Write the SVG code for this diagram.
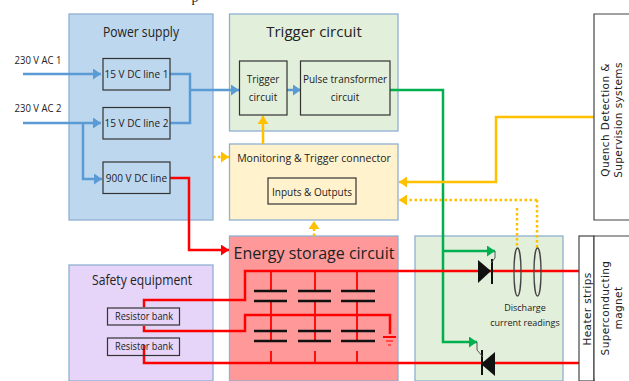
<svg xmlns="http://www.w3.org/2000/svg" width="629" height="381" viewBox="0 0 629 381">
<style>
text{font-family:"Open Sans","Liberation Sans",sans-serif;fill:#222;text-anchor:middle}
.big{font-size:15px}
.mid{font-size:10.5px}
.sm{font-size:10px}
.v{font-family:"DejaVu Sans",sans-serif;font-size:10.5px;letter-spacing:.4px}
.panel{stroke:#8fb0d2;stroke-width:1.3}
.box{fill:none;stroke:#333;stroke-width:1.2}
.wire{fill:none;stroke-linejoin:miter}
.blue{stroke:#5b9bd5;stroke-width:2.5}
.red{stroke:#f00;stroke-width:2.5}
.green{stroke:#00b050;stroke-width:2.5}
.gold{stroke:#ffc000;stroke-width:2.5}
.dot{stroke:#ffc000;stroke-width:2.5;stroke-dasharray:2.5 2.5;fill:none}
.cap{stroke:#111;stroke-width:2.5;fill:none}
.thin{stroke:#f00;stroke-width:1.8;fill:none}
.gate{stroke:#555;stroke-width:1;fill:none}
.coil{fill:none;stroke:#444;stroke-width:1.3}
</style>
<defs>
<marker id="ab" markerUnits="userSpaceOnUse" markerWidth="9" markerHeight="11" refX="8" refY="5.5" orient="auto"><path d="M0 0L8 5.5L0 11z" fill="#5b9bd5"/></marker>
<marker id="ar" markerUnits="userSpaceOnUse" markerWidth="9" markerHeight="11" refX="8" refY="5.5" orient="auto"><path d="M0 0L8 5.5L0 11z" fill="#f00"/></marker>
<marker id="ag" markerUnits="userSpaceOnUse" markerWidth="9" markerHeight="11" refX="8" refY="5.5" orient="auto"><path d="M0 0L8 5.5L0 11z" fill="#00b050"/></marker>
<marker id="ay" markerUnits="userSpaceOnUse" markerWidth="9" markerHeight="11" refX="8" refY="5.5" orient="auto"><path d="M0 0L8 5.5L0 11z" fill="#ffc000"/></marker>
</defs>

<g id="power-supply">
<rect class="panel" x="69" y="14" width="144" height="206" fill="#bdd7ee"/>
<text class="big" x="141" y="37" textLength="76" lengthAdjust="spacingAndGlyphs">Power supply</text>
</g>
<g id="trigger-panel">
<rect class="panel" x="229.500" y="14" width="168.500" height="117" fill="#e2efda"/>
<text class="big" x="314" y="37">Trigger circuit</text>
</g>
<g id="monitoring">
<rect class="panel" x="229.500" y="144" width="168.500" height="76" fill="#fff2cc"/>
<text class="mid" x="314" y="162">Monitoring &amp; Trigger connector</text>
</g>
<g id="energy-storage">
<rect class="panel" x="229.500" y="236" width="168.500" height="145" fill="#ff9999"/>
<text class="big" x="314" y="259" style="font-size:16px">Energy storage circuit</text>
</g>
<g id="safety-equipment">
<rect class="panel" x="69" y="265" width="144" height="116" fill="#e6d5f8"/>
<text class="big" x="142" y="285" textLength="100" lengthAdjust="spacingAndGlyphs">Safety equipment</text>
</g>
<g id="switch-panel">
<rect class="panel" x="415" y="236" width="148" height="145" fill="#e2efda"/>
</g>

<g id="connectors">
<path class="wire blue" d="M23 74H101" marker-end="url(#ab)"/>
<path class="wire blue" d="M23 123H101" marker-end="url(#ab)"/>
<path class="wire blue" d="M83 123V179H102" marker-end="url(#ab)"/>
<path class="wire blue" d="M170 74H190V123H170"/>
<path class="wire blue" d="M190 90H239" marker-end="url(#ab)"/>
<path class="wire blue" d="M287 90H301" marker-end="url(#ab)"/>
<path class="wire gold" d="M263 144V116" marker-end="url(#ay)"/>
<path class="dot" d="M213 157H229" marker-end="url(#ay)"/>
<path class="wire green" d="M390 90H443V342H477" marker-end="url(#ag)"/>
<path class="wire green" d="M443 251H495" marker-end="url(#ag)"/>
<path class="wire gold" d="M596 117H496V182H399" marker-start="url(#ay)" marker-end="url(#ay)"/>
<path class="dot" d="M537 200H399" marker-end="url(#ay)"/>
<path class="dot" d="M517 208V248"/>
<path class="dot" d="M537 200V248"/>
<path class="wire red" d="M170 178H189V250H229" marker-end="url(#ar)"/>
<path class="dot" d="M314 236V221" marker-end="url(#ay)"/>

<path class="wire red" d="M144 307V300H245V271H579"/>
<path class="wire red" d="M144 326V331H245V315H390V334"/>
<path class="wire red" d="M144 345V363H579"/>
<path class="thin" d="M271 271V290M271 301V330M271 331V340M271 351V363"/>
<path class="thin" d="M315 271V290M315 301V330M315 331V340M315 351V363"/>
<path class="thin" d="M357 271V290M357 301V330M357 331V340M357 351V363"/>
<path class="cap" d="M254 291H287M254 301H287M298 291H331M298 301H331M341 291H375M341 301H375"/>
<path class="cap" d="M254 331H287M254 341H287M298 331H331M298 341H331M341 331H375M341 341H375"/>
<path class="thin" d="M383 337H396" style="stroke-width:2"/>
<path class="thin" d="M386 341H393M388 345H391" style="stroke-width:1.2"/>

<path d="M478 260L491 271L478 283z" fill="#111"/>
<path d="M492 259V284" stroke="#111" stroke-width="2" fill="none"/>
<path class="gate" d="M495 251V258L491 263"/>
<path d="M495 352L481 364L495 376z" fill="#111"/>
<path d="M482 350V375" stroke="#111" stroke-width="2" fill="none"/>
<path class="gate" d="M477 342V350L483 357"/>
<ellipse class="coil" cx="517.500" cy="272" rx="3.500" ry="24"/>
<ellipse class="coil" cx="537.500" cy="272" rx="3.500" ry="24"/>
</g>

<g id="ac-labels">
<text class="sm" x="38" y="64" textLength="47" lengthAdjust="spacingAndGlyphs">230 V AC 1</text>
<text class="sm" x="38" y="112" textLength="47" lengthAdjust="spacingAndGlyphs">230 V AC 2</text>
</g>
<g id="dc1"><rect class="box" x="103" y="58.500" width="67" height="31.500"/><text class="sm" x="136.500" y="78">15 V DC line 1</text></g>
<g id="dc2"><rect class="box" x="103" y="107.500" width="67" height="31.500"/><text class="sm" x="136.500" y="127">15 V DC line 2</text></g>
<g id="dc900"><rect class="box" x="103" y="162" width="67" height="31.500"/><text class="sm" x="136.500" y="182">900 V DC line</text></g>
<g id="trigger-inner"><rect class="box" x="239.500" y="61" width="47.500" height="54"/><text class="sm" x="263" y="83">Trigger</text><text class="sm" x="263" y="101">circuit</text></g>
<g id="pulse-transformer"><rect class="box" x="300.500" y="61" width="89.500" height="54"/><text class="sm" x="345" y="83">Pulse transformer</text><text class="sm" x="345" y="101">circuit</text></g>
<g id="io"><rect class="box" x="268" y="178" width="88" height="26"/><text class="sm" x="312" y="196">Inputs &amp; Outputs</text></g>
<g id="rb1"><rect class="box" x="107.500" y="308" width="72" height="17" fill="#e6d5f8"/><text class="sm" x="144" y="320" textLength="58" lengthAdjust="spacingAndGlyphs">Resistor bank</text></g>
<g id="rb2"><rect class="box" x="107.500" y="338" width="72" height="17.500" fill="#e6d5f8"/><text class="sm" x="144" y="350" textLength="58" lengthAdjust="spacingAndGlyphs">Resistor bank</text></g>
<g id="discharge-label"><text class="sm" x="525" y="311" style="font-size:9px">Discharge</text><text class="sm" x="525" y="326" style="font-size:9px">current readings</text></g>
<g id="quench">
<path d="M629 14H594V220H629" fill="#fff" stroke="#444" stroke-width="1.2"/>
<text class="v" transform="translate(609 120) rotate(-90)">Quench Detection &amp;</text>
<text class="v" transform="translate(622 120) rotate(-90)">Supervision systems</text>
</g>
<g id="heater-strips">
<rect x="579" y="236" width="15" height="145" fill="#fff" stroke="#444" stroke-width="1.2"/>
<text class="v" transform="translate(591 309) rotate(-90)">Heater strips</text>
</g>
<g id="magnet">
<path d="M629 236H594V381" fill="#fff" stroke="#444" stroke-width="1.2"/>
<text class="v" transform="translate(609 308) rotate(-90)">Superconducting</text>
<text class="v" transform="translate(622 308) rotate(-90)">magnet</text>
</g>
<text x="195" y="2" style="font-family:'Liberation Serif',serif;font-size:14px">p</text>
</svg>
